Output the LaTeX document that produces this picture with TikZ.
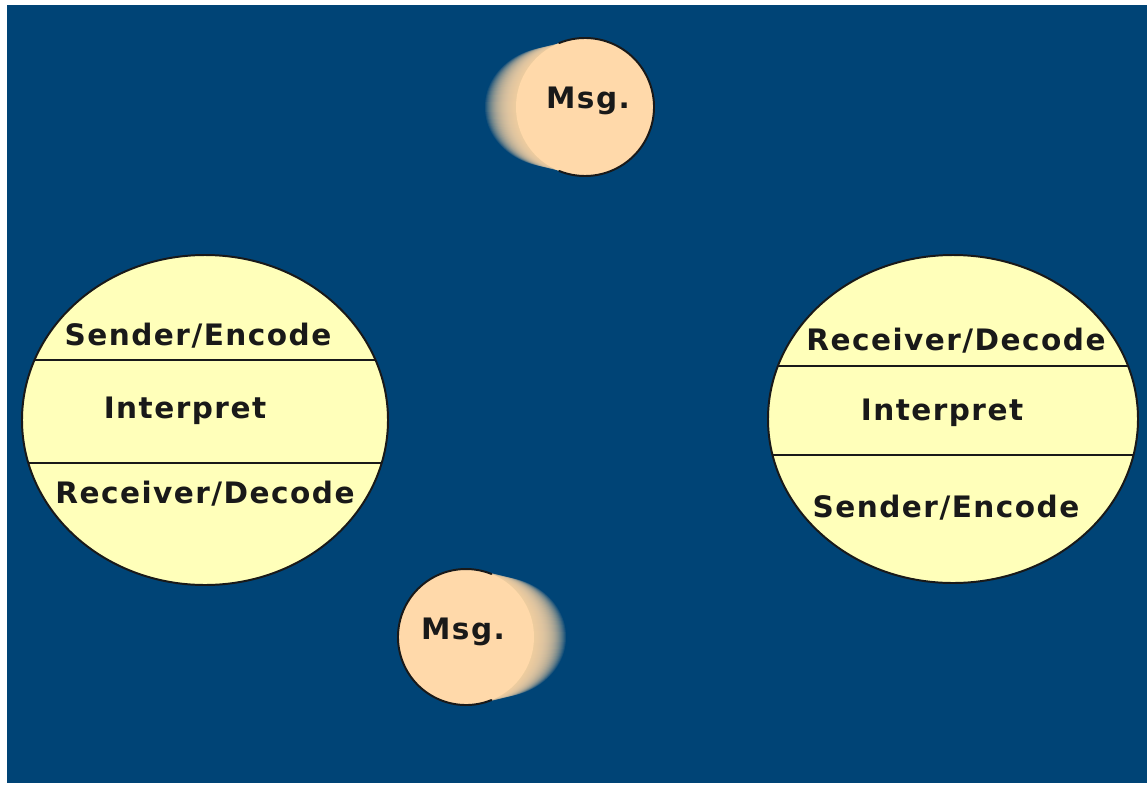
\documentclass[tikz,border=0pt]{standalone}
\usepackage{fontspec}
\setmainfont{DejaVu Sans}[LetterSpace=5]
\usetikzlibrary{positioning}

\definecolor{bgblue}{HTML}{004476}
\definecolor{panel}{HTML}{FFFFBA}
\definecolor{peach}{HTML}{FFD9AA}

\tikzset{
  role/.style={font=\fontsize{21}{24}\selectfont\bfseries,text=black!90,inner sep=0pt},
  rim/.style={draw=black!90,line width=1.4pt},
  divider/.style={black!90,line width=1.4pt},
}

\begin{document}
\begin{tikzpicture}[x=0.025cm,y=-0.025cm,line cap=round]
  \useasboundingbox (0,0) rectangle (1147,785);
  \fill[white] (0,0) rectangle (1147,785);
  \fill[bgblue] (7,5) rectangle (1147,783);

  % the two parties, each split in three bands
  \foreach \cx/\cy/\rx/\ry/\ya/\yb in {205/420/183/165/360/463,953/419/185/164/366/455}{
    \fill[panel] (\cx,\cy) ellipse [x radius=\rx, y radius=\ry];
    \begin{scope}
      \clip (\cx,\cy) ellipse [x radius=\rx, y radius=\ry];
      \draw[divider] (\cx-\rx,\ya) -- (\cx+\rx,\ya) (\cx-\rx,\yb) -- (\cx+\rx,\yb);
    \end{scope}
    \draw[rim] (\cx,\cy) ellipse [x radius=\rx, y radius=\ry];
  }
  \node[role] (sendL)   at (198,336) {Sender/Encode};
  \node[role] (interpL) at (185,411) {Interpret};
  \node[role] (recvL)   at (205,494) {Receiver/Decode};
  \node[role] (recvR)   at (956,341) {Receiver/Decode};
  \node[role] (interpR) at (942,413) {Interpret};
  \node[role] (sendR)   at (946,508) {Sender/Encode};

  % messages in flight, smeared behind
  \foreach \d in {1,...,32}{
    \fill[peach,opacity=0.09] (585-\d,107) ellipse [x radius=68, y radius={68-\d/4}];
    \fill[peach,opacity=0.09] (466+\d,637) ellipse [x radius=68, y radius={68-\d/4}];
  }
  \fill[peach] (585,107) circle [radius=69];
  \fill[peach] (466,637) circle [radius=68];
  \draw[rim] (585,107) ++(-112:69) arc [start angle=-112, end angle=112, radius=69];
  \draw[rim] (466,637) ++(68:68) arc [start angle=68, end angle=292, radius=68];
  \node[role] (msgTop) at (588,101) {Msg.};
  \node[role] (msgBot) at (463,632) {Msg.};
\end{tikzpicture}
\end{document}
